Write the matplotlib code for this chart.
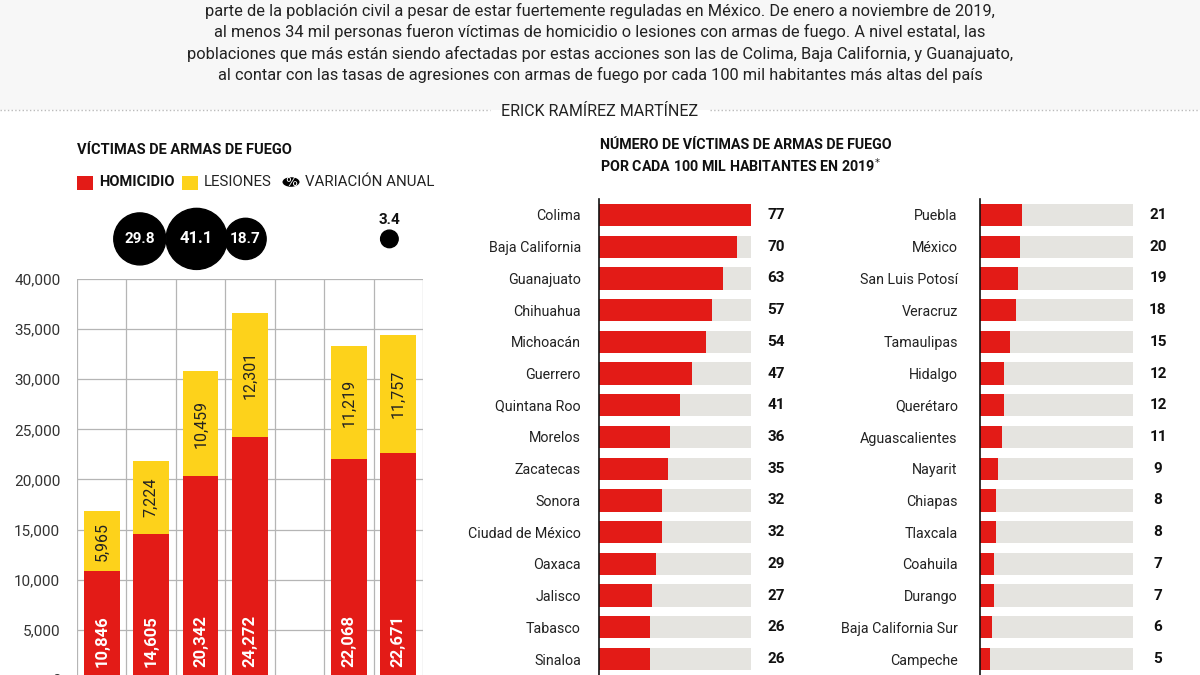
import matplotlib
matplotlib.use('Agg')
import matplotlib.pyplot as plt
from matplotlib.patches import Rectangle, Circle
from matplotlib.lines import Line2D

# ---- data ----
periodos = ['2015', '2016', '2017', '2018', 'Ene-Nov 2018', 'Ene-Nov 2019']
slots = [0, 1, 2, 3, 5, 6]
homicidio = [10846, 14605, 20342, 24272, 22068, 22671]
lesiones = [5965, 7224, 10459, 12301, 11219, 11757]
variacion = [29.8, 41.1, 18.7, 3.4]

estados_a = ['Colima', 'Baja California', 'Guanajuato', 'Chihuahua', 'Michoacán',
             'Guerrero', 'Quintana Roo', 'Morelos', 'Zacatecas', 'Sonora',
             'Ciudad de México', 'Oaxaca', 'Jalisco', 'Tabasco', 'Sinaloa']
tasas_a = [77, 70, 63, 57, 54, 47, 41, 36, 35, 32, 32, 29, 27, 26, 26]
estados_b = ['Puebla', 'México', 'San Luis Potosí', 'Veracruz', 'Tamaulipas',
             'Hidalgo', 'Querétaro', 'Aguascalientes', 'Nayarit', 'Chiapas',
             'Tlaxcala', 'Coahuila', 'Durango', 'Baja California Sur', 'Campeche']
tasas_b = [21, 20, 19, 18, 15, 12, 12, 11, 9, 8, 8, 7, 7, 6, 5]

texto = ['parte de la población civil a pesar de estar fuertemente reguladas en México. De enero a noviembre de 2019,',
         'al menos 34 mil personas fueron víctimas de homicidio o lesiones con armas de fuego. A nivel estatal, las',
         'poblaciones que más están siendo afectadas por estas acciones son las de Colima, Baja California, y Guanajuato,',
         'al contar con las tasas de agresiones con armas de fuego por cada 100 mil habitantes más altas del país']
autor = 'ERICK RAMÍREZ MARTÍNEZ'

ROJO = '#e31b17'
AMARILLO = '#fdd21b'
GRIS = '#e5e4e0'
plt.rcParams['font.family'] = ['Roboto', 'DejaVu Sans']

W, H = 1200, 675


def box(x0, y0, x1, y1):
    """pixel box (top-left origin) -> figure fraction rect"""
    return [x0 / W, 1 - y1 / H, (x1 - x0) / W, (y1 - y0) / H]


def fx(x):
    return x / W


def fy(y):
    return 1 - y / H


fig = plt.figure(figsize=(12, 6.75), dpi=100)
fig.patch.set_facecolor('white')

# header band
fig.patches.append(Rectangle((0, fy(110)), 1, 1 - fy(110), transform=fig.transFigure,
                             facecolor='#f7f7f7', edgecolor='none', zorder=0))
for i, linea in enumerate(texto):
    fig.text(0.5, fy(11 + 21.3 * i), linea, ha='center', va='center', fontsize=11.8,
             color='#222222')
fig.text(0.5, fy(111), autor, ha='center', va='center', fontsize=11.5, color='#222222')
fig.add_artist(Line2D([0, fx(490)], [fy(110), fy(110)], color='#bbbbbb', lw=1, ls=':'))
fig.add_artist(Line2D([fx(710), 1], [fy(110), fy(110)], color='#bbbbbb', lw=1, ls=':'))

# ---- left chart: stacked columns ----
ax = fig.add_axes(box(77, 279, 423, 680))
ax.set_xlim(-0.5, 6.5)
ax.set_ylim(0, 40000)
ax.bar(slots, homicidio, width=0.72, color=ROJO, zorder=3)
ax.bar(slots, lesiones, width=0.72, bottom=homicidio, color=AMARILLO, zorder=3)
for x, h, l in zip(slots, homicidio, lesiones):
    ax.text(x, 1300, f'{h:,}', rotation=90, ha='center', va='bottom', color='white',
            fontsize=12, fontweight='bold', zorder=4)
    ax.text(x, h + l / 2, f'{l:,}', rotation=90, ha='center', va='center',
            color='#222222', fontsize=11.5, zorder=4)
ax.set_yticks(range(0, 40001, 5000))
ax.set_yticklabels([f'{v:,}' for v in range(0, 40001, 5000)], fontsize=11, color='#333333')
ax.set_xticks([])
ax.tick_params(axis='y', length=0, pad=12)
for v in range(0, 40001, 5000):
    ax.axhline(v, color='#b5b5b5', lw=0.9, zorder=1)
for v in [i - 0.5 for i in range(8)]:
    ax.axvline(v, color='#b5b5b5', lw=0.9, zorder=1)
for s in ax.spines.values():
    s.set_visible(False)
ax.set_facecolor('none')

# annual variation bubbles
circ_x = [0.77, 1.92, 2.91, 5.82]
ax.scatter(circ_x, [44000] * 4, s=[47 * v for v in variacion], color='black',
           clip_on=False, zorder=5)
for x, v in zip(circ_x[:3], variacion[:3]):
    ax.text(x, 44000, f'{v}', ha='center', va='center', color='white',
            fontsize=12 if v > 40 else 11, fontweight='bold', clip_on=False, zorder=6)
ax.text(circ_x[3], 45900, f'{variacion[3]}', ha='center', va='center', color='#111111',
        fontsize=11, fontweight='bold', clip_on=False)

# title + legend
fig.text(fx(77), fy(150), 'VÍCTIMAS DE ARMAS DE FUEGO', ha='left', va='center',
         fontsize=10.5, fontweight='bold', color='#111111')
fig.patches.append(Rectangle((fx(77), fy(190)), 16 / W, 14 / H, transform=fig.transFigure,
                             facecolor=ROJO, edgecolor='none'))
fig.text(fx(99), fy(182), 'HOMICIDIO', ha='left', va='center', fontsize=10.5,
         fontweight='bold', color='#111111')
fig.patches.append(Rectangle((fx(182), fy(190)), 16 / W, 14 / H, transform=fig.transFigure,
                             facecolor=AMARILLO, edgecolor='none'))
fig.text(fx(204), fy(182), 'LESIONES', ha='left', va='center', fontsize=10.8, color='#222222')
fig.patches.append(Circle((fx(291), fy(182)), 8.5 / W, transform=fig.transFigure,
                          facecolor='black', edgecolor='none'))
fig.text(fx(291), fy(182), '%', ha='center', va='center', fontsize=9,
         color='white', family='DejaVu Sans')
fig.text(fx(305), fy(182), 'VARIACIÓN ANUAL', ha='left', va='center', fontsize=10.8,
         color='#222222')

# ---- right chart: rates per 100k ----
fig.text(fx(600), fy(145), 'NÚMERO DE VÍCTIMAS DE ARMAS DE FUEGO', ha='left', va='center',
         fontsize=10.3, fontweight='bold', color='#111111')
fig.text(fx(600), fy(166), 'POR CADA 100 MIL HABITANTES EN 2019$^{*}$', ha='left',
         va='center', fontsize=10.3, fontweight='bold', color='#111111')

tope = max(tasas_a)
for (x0, x1, pad), estados, tasas in [((599, 751, 13), estados_a, tasas_a),
                                      ((980, 1133, 16), estados_b, tasas_b)]:
    axr = fig.add_axes(box(x0, 199.1, x1, 674.9))
    filas = list(range(len(estados)))
    axr.barh(filas, [tope] * len(filas), height=0.7, color=GRIS, zorder=1)
    axr.barh(filas, tasas, height=0.7, color=ROJO, zorder=2)
    axr.set_xlim(0, tope)
    axr.set_ylim(len(filas) - 0.5, -0.5)
    axr.set_yticks(filas)
    axr.set_yticklabels(estados, fontsize=10.3, color='#222222')
    axr.tick_params(axis='y', length=0, pad=pad)
    axr.set_xticks([])
    for f, t in zip(filas, tasas):
        axr.annotate(f'{t}', (tope, f), xytext=(18, 0), textcoords='offset points',
                     ha='center', va='center', fontsize=11, fontweight='bold',
                     color='#111111', annotation_clip=False)
    for k in ['top', 'right', 'bottom']:
        axr.spines[k].set_visible(False)
    axr.spines['left'].set_color('#111111')
    axr.spines['left'].set_linewidth(1.2)
    axr.spines['left'].set_zorder(3)
    axr.set_facecolor('none')

fig.savefig('out.png', dpi=100)
